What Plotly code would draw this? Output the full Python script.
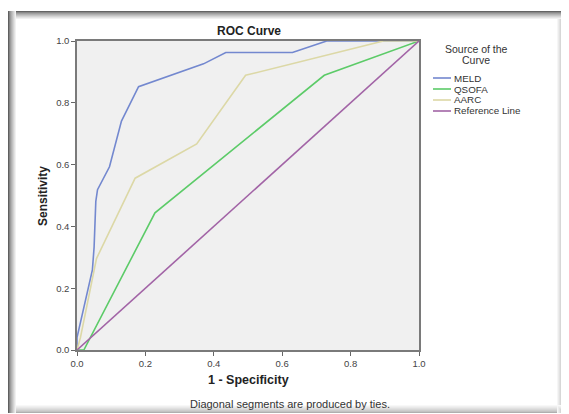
import plotly.graph_objects as go

# ---- data ----
series_names = ["MELD", "QSOFA", "AARC", "Reference Line"]
meld_fpr = [0.0, 0.0, 0.045, 0.05, 0.055, 0.06, 0.095, 0.13, 0.18, 0.37, 0.435, 0.63, 0.73, 1.0]
meld_tpr = [0.0, 0.04, 0.259, 0.333, 0.481, 0.519, 0.593, 0.741, 0.852, 0.926, 0.963, 0.963, 1.0, 1.0]
qsofa_fpr = [0.0, 0.02, 0.228, 0.723, 1.0]
qsofa_tpr = [0.0, 0.0, 0.444, 0.889, 1.0]
aarc_fpr = [0.0, 0.01, 0.057, 0.17, 0.35, 0.493, 0.896, 1.0]
aarc_tpr = [0.0, 0.04, 0.296, 0.556, 0.667, 0.889, 1.0, 1.0]
ref_fpr = [0.0, 1.0]
ref_tpr = [0.0, 1.0]
tick_vals = [0.0, 0.2, 0.4, 0.6, 0.8, 1.0]

colors = ["#7388cf", "#5ccb68", "#dcd8a6", "#a264a6"]
xs = [meld_fpr, qsofa_fpr, aarc_fpr, ref_fpr]
ys = [meld_tpr, qsofa_tpr, aarc_tpr, ref_tpr]

OFF = 8  # page body margin
W, H = 569 - OFF, 414 - OFF
L, R, T, B = 77, 419, 41, 350  # plot area in page pixels


def px(x):
    return (x - L) / (R - L)


def py(y):
    return (B - y) / (B - T)


FONT = "Liberation Sans, Arial, sans-serif"

fig = go.Figure()
for name, x, y, c in zip(series_names, xs, ys, colors):
    fig.add_trace(go.Scatter(x=x, y=y, mode="lines", name=name,
                             line=dict(color=c, width=1.6), showlegend=False,
                             hoverinfo="skip"))

shapes = []


def lerp(c1, c2, t):
    return "#%02x%02x%02x" % tuple(int(round(a + (b - a) * t)) for a, b in zip(c1, c2))


white = (255, 255, 255)
n = 8
for i in range(n):
    t = i / n
    # left
    shapes.append(dict(type="line", xref="paper", yref="paper",
                       x0=px(8.5 + i), x1=px(8.5 + i), y0=py(11), y1=py(413),
                       line=dict(color=lerp((95, 95, 95), white, t ** 0.7), width=1)))
    # top
    shapes.append(dict(type="line", xref="paper", yref="paper",
                       x0=px(8 + i), x1=px(565), y0=py(11.5 + i), y1=py(11.5 + i),
                       line=dict(color=lerp((100, 100, 100), white, t ** 0.7), width=1)))
    # right
    shapes.append(dict(type="line", xref="paper", yref="paper",
                       x0=px(564.5 - i), x1=px(564.5 - i), y0=py(12 + i), y1=py(413),
                       line=dict(color=lerp((150, 150, 150), white, t ** 0.7), width=1)))
    # bottom
    shapes.append(dict(type="line", xref="paper", yref="paper",
                       x0=px(9 + i), x1=px(565), y0=py(412.5 - i), y1=py(412.5 - i),
                       line=dict(color=lerp((175, 175, 175), white, t ** 0.7), width=1)))

annotations = []
annotations.append(dict(text="<b>ROC Curve</b>", x=px(249), y=py(31), xref="paper", yref="paper",
                        showarrow=False, xanchor="center", yanchor="middle",
                        font=dict(family=FONT, size=12, color="#222")))
annotations.append(dict(text="<b>Sensitivity</b>", x=px(43), y=py(196), xref="paper", yref="paper",
                        showarrow=False, xanchor="center", yanchor="middle", textangle=-90,
                        font=dict(family=FONT, size=12, color="#222")))
annotations.append(dict(text="<b>1 - Specificity</b>", x=px(248), y=py(380), xref="paper", yref="paper",
                        showarrow=False, xanchor="center", yanchor="middle",
                        font=dict(family=FONT, size=12.5, color="#222")))
annotations.append(dict(text="Diagonal segments are produced by ties.", x=px(290), y=py(404),
                        xref="paper", yref="paper", showarrow=False, xanchor="center", yanchor="middle",
                        font=dict(family=FONT, size=11, color="#333")))
# legend (manual)
annotations.append(dict(text="Source of the", x=px(476), y=py(49.5), xref="paper", yref="paper",
                        showarrow=False, xanchor="center", yanchor="middle",
                        font=dict(family=FONT, size=10.5, color="#333")))
annotations.append(dict(text="Curve", x=px(476), y=py(59.5), xref="paper", yref="paper",
                        showarrow=False, xanchor="center", yanchor="middle",
                        font=dict(family=FONT, size=10.5, color="#333")))
leg_y = [78, 89, 100, 111]
for name, c, yy in zip(series_names, colors, leg_y):
    shapes.append(dict(type="line", xref="paper", yref="paper",
                       x0=px(433), x1=px(451), y0=py(yy), y1=py(yy),
                       line=dict(color=c, width=1.6)))
    annotations.append(dict(text=name, x=px(452), y=py(yy), xref="paper", yref="paper",
                            showarrow=False, xanchor="left", yanchor="middle",
                            font=dict(family=FONT, size=9.8, color="#333")))

axis_common = dict(range=[0, 1], tickvals=tick_vals, tickformat=".1f",
                   showgrid=False, zeroline=False, showline=True, mirror=True,
                   linecolor="#7a7a7a", linewidth=1.5, ticks="outside", ticklen=4,
                   tickcolor="#666", tickwidth=1,
                   tickfont=dict(family=FONT, size=9.5, color="#444"))

fig.update_layout(
    width=W, height=H,
    margin=dict(l=L - OFF, r=W - (R - OFF), t=T - OFF, b=H - (B - OFF), pad=0),
    paper_bgcolor="white", plot_bgcolor="#f0f0f0",
    xaxis=axis_common, yaxis=axis_common,
    shapes=shapes, annotations=annotations, showlegend=False,
)

fig.write_html("out.html")
